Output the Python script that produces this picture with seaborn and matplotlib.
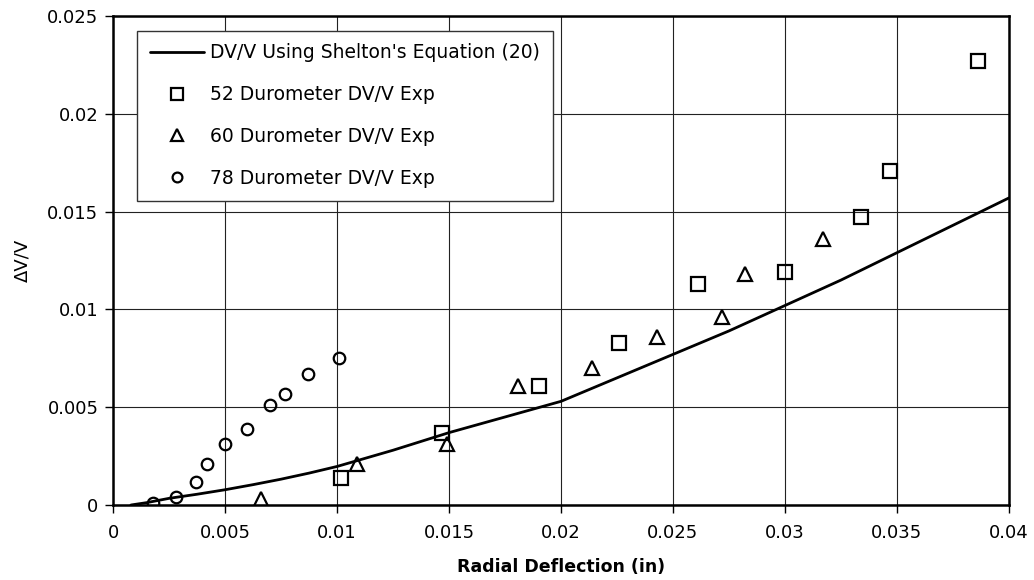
import matplotlib
matplotlib.use("Agg")
import matplotlib.pyplot as plt
import seaborn as sns

# ---- data ----
curve_x = [0.0008, 0.0015, 0.0025, 0.00375, 0.005, 0.00625, 0.0075, 0.00875, 0.01,
           0.0125, 0.015, 0.0175, 0.02, 0.0225, 0.025, 0.0275, 0.03, 0.0325,
           0.035, 0.0375, 0.04]
curve_y = [0.0, 0.00012, 0.00034, 0.00055, 0.00078, 0.00104, 0.00132, 0.00163, 0.00197,
           0.0028, 0.0037, 0.0045, 0.0053, 0.0065, 0.0077, 0.0089, 0.0102, 0.0115,
           0.0129, 0.0143, 0.0157]

d52_x = [0.0102, 0.0147, 0.0190, 0.0226, 0.0261, 0.0300, 0.0334, 0.0347, 0.0386]
d52_y = [0.0014, 0.0037, 0.0061, 0.0083, 0.0113, 0.0119, 0.0147, 0.0171, 0.0227]

d60_x = [0.0066, 0.0109, 0.0149, 0.0181, 0.0214, 0.0243, 0.0272, 0.0282, 0.0317]
d60_y = [0.0003, 0.0021, 0.0031, 0.0061, 0.0070, 0.0086, 0.0096, 0.0118, 0.0136]

d78_x = [0.0018, 0.0028, 0.0037, 0.0042, 0.0050, 0.0060, 0.0070, 0.0077, 0.0087, 0.0101]
d78_y = [0.0001, 0.0004, 0.0012, 0.0021, 0.0031, 0.0039, 0.0051, 0.0057, 0.0067, 0.0075]

labels = ["DV/V Using Shelton's Equation (20)",
          "52 Durometer DV/V Exp",
          "60 Durometer DV/V Exp",
          "78 Durometer DV/V Exp"]

x_ticks = [0, 0.005, 0.01, 0.015, 0.02, 0.025, 0.03, 0.035, 0.04]
x_tick_labels = ["0", "0.005", "0.01", "0.015", "0.02", "0.025", "0.03", "0.035", "0.04"]
y_ticks = [0, 0.005, 0.01, 0.015, 0.02, 0.025]
y_tick_labels = ["0", "0.005", "0.01", "0.015", "0.02", "0.025"]

sns.set_theme(style="white")
plt.rcParams["font.family"] = ["DejaVu Sans"]

fig = plt.figure(figsize=(10.34, 5.8), dpi=100)
ax = fig.add_axes([0.1093, 0.1293, 0.8665, 0.8431])

sns.lineplot(x=curve_x, y=curve_y, ax=ax, color="black", linewidth=2.0,
             label=labels[0], sort=False, estimator=None)

common = dict(ax=ax, linestyle="none", sort=False, estimator=None,
              markerfacecolor="none", markeredgecolor="black",
              markeredgewidth=1.6, color="black")
sns.lineplot(x=d52_x, y=d52_y, marker="s", markersize=10, label=labels[1], **common)
sns.lineplot(x=d60_x, y=d60_y, marker="^", markersize=10, label=labels[2], **common)
sns.lineplot(x=d78_x, y=d78_y, marker="o", markersize=8.3, label=labels[3], **common)

ax.set_xlim(0, 0.04)
ax.set_ylim(0, 0.025)
ax.set_xticks(x_ticks)
ax.set_xticklabels(x_tick_labels)
ax.set_yticks(y_ticks)
ax.set_yticklabels(y_tick_labels)

ax.grid(True, color="#222222", linewidth=0.8)
ax.set_axisbelow(True)
for s in ax.spines.values():
    s.set_color("black")
    s.set_linewidth(1.8)
    s.set_visible(True)

ax.tick_params(axis="both", direction="out", length=6, width=1.0, color="black",
               labelsize=13, labelcolor="black", bottom=True, left=True)
ax.tick_params(axis="x", pad=8)
ax.tick_params(axis="y", pad=4.5)

ax.set_xlabel("Radial Deflection (in)", fontsize=12.5, fontweight="bold",
              labelpad=11, color="black")
ax.set_ylabel("\u0394V/V", fontsize=13, color="black")
ax.yaxis.set_label_coords(-0.0915, 0.5)

leg = ax.legend(loc="upper left", bbox_to_anchor=(0.0268, 0.97), borderaxespad=0,
                fontsize=13.5, frameon=True, fancybox=False, edgecolor="#333333",
                framealpha=1, handlelength=2.9, handletextpad=0.32,
                labelspacing=1.215, borderpad=0.68, markerscale=0.85)
leg.get_frame().set_linewidth(1.0)
for t in leg.get_texts():
    t.set_color("black")

fig.savefig("out.png", dpi=100, facecolor="white")
